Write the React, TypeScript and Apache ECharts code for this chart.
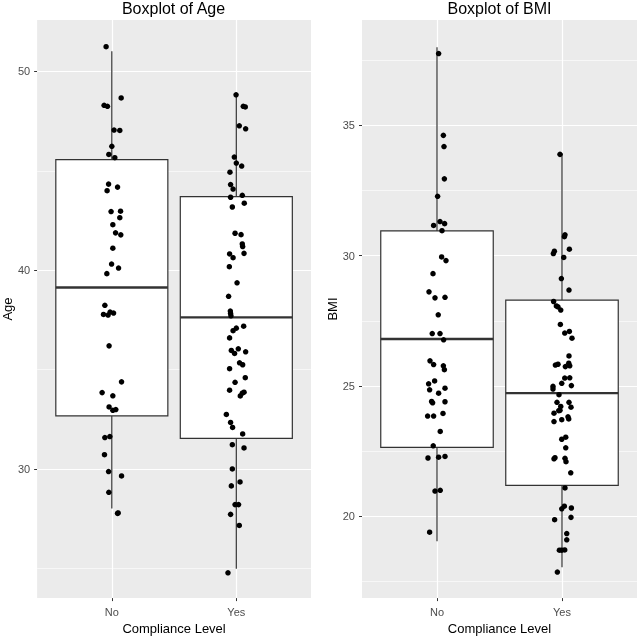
import React, { useEffect, useRef } from "react";
import * as echarts from "echarts";

const categories = ["No", "Yes"];

// Box statistics: [lowerWhisker, Q1, median, Q3, upperWhisker]
const ageBoxNo = [28.02, 32.68, 39.13, 45.56, 51.01];
const ageBoxYes = [25.0, 31.55, 37.63, 43.7, 48.94];
const bmiBoxNo = [19.03, 22.64, 26.8, 30.95, 38.0];
const bmiBoxYes = [18.03, 21.18, 24.72, 28.29, 33.93];

// Jittered observations: values and horizontal jitter (category units)
const ageNo = [51.24, 48.66, 48.29, 48.24, 47.05, 47.03, 46.23, 45.82, 45.66, 44.33, 44.18, 44.0, 42.95, 42.97, 42.64, 42.29, 41.88, 41.78, 41.11, 40.31, 40.11, 39.83, 38.24, 37.78, 37.75, 37.9, 37.85, 36.2, 34.39, 33.85, 33.69, 33.13, 32.96, 33.0, 31.59, 31.64, 30.73, 29.88, 29.66, 28.84, 27.78, 27.8];
const ageNoJit = [-0.046, 0.075, -0.062, -0.035, 0.018, 0.064, 0, -0.024, 0.024, -0.026, 0.046, -0.038, -0.006, 0.07, 0.064, 0.008, 0.03, 0.072, 0.008, -0.002, 0.054, -0.04, -0.056, -0.067, -0.03, -0.014, 0.014, -0.022, 0.078, -0.078, 0.008, -0.022, 0.008, 0.032, -0.056, -0.016, -0.059, -0.026, 0.078, -0.024, 0.046, 0.051];
const ageYes = [48.82, 48.24, 48.21, 47.26, 47.11, 45.69, 45.39, 45.24, 44.93, 44.31, 44.08, 43.77, 43.67, 43.37, 43.18, 41.86, 41.79, 41.32, 41.19, 40.82, 40.63, 40.85, 40.18, 39.37, 38.69, 37.95, 37.83, 37.71, 37.19, 37.09, 36.96, 36.6, 35.97, 35.82, 36.05, 35.9, 35.35, 35.25, 35.05, 34.6, 34.37, 33.97, 33.68, 33.82, 33.87, 32.75, 32.35, 32.1, 31.77, 31.23, 31.07, 30.01, 29.36, 29.16, 28.22, 28.22, 27.73, 27.17, 24.79];
const ageYesJit = [-0.002, 0.056, 0.072, 0.024, 0.075, -0.016, 0, 0.043, -0.051, -0.046, -0.026, 0.048, -0.046, 0.064, -0.032, -0.01, 0.038, 0.048, 0.051, -0.054, -0.026, 0.062, -0.056, 0.006, -0.062, -0.048, -0.046, -0.043, 0.059, 0, -0.026, -0.054, -0.04, -0.014, 0.016, 0.075, 0.026, 0.051, -0.054, 0.072, -0.01, -0.054, 0.032, 0.048, 0.062, -0.08, -0.046, -0.03, 0.051, -0.032, 0.062, -0.032, 0.03, -0.04, -0.01, 0.018, -0.046, 0.024, -0.067];
const bmiNo = [37.76, 34.62, 34.19, 32.95, 32.28, 31.31, 31.23, 31.16, 30.96, 29.95, 29.81, 29.31, 28.61, 28.38, 28.4, 27.73, 27.01, 27.01, 26.77, 25.96, 25.82, 25.77, 25.62, 25.19, 25.08, 24.85, 24.72, 24.91, 24.4, 24.35, 24.39, 23.84, 23.84, 23.94, 23.25, 22.7, 22.23, 22.26, 22.29, 20.96, 20.99, 19.38];
const bmiNoJit = [0.013, 0.051, 0.056, 0.059, 0.005, 0.024, 0.061, -0.027, 0.04, 0.037, 0.072, -0.032, -0.064, -0.016, 0.064, 0.01, -0.038, 0.024, 0.053, -0.056, -0.027, 0.051, 0.059, -0.019, -0.067, -0.059, 0.013, 0.064, -0.043, -0.035, 0.064, -0.075, -0.027, 0.048, 0.026, -0.03, -0.072, 0.013, 0.064, -0.016, 0.026, -0.059];
const bmiYes = [33.89, 30.8, 30.73, 30.17, 30.08, 30.25, 29.93, 29.12, 28.68, 28.24, 28.07, 28.03, 27.91, 27.36, 27.03, 27.09, 26.83, 26.15, 25.8, 25.83, 25.74, 25.87, 25.77, 25.3, 25.31, 25.1, 25.01, 24.98, 24.88, 24.66, 24.37, 24.21, 24.37, 24.18, 24.06, 24.05, 23.95, 23.7, 23.81, 23.73, 23.63, 22.95, 23.03, 22.62, 22.2, 22.24, 22.22, 22.09, 21.66, 21.08, 20.28, 20.38, 20.31, 19.86, 19.95, 19.33, 19.09, 18.69, 18.69, 18.7, 17.85];
const bmiYesJit = [-0.016, 0.024, 0.019, -0.061, -0.069, 0.059, 0.014, -0.005, 0.056, -0.067, -0.045, -0.032, -0.01, -0.013, 0.022, 0.059, 0.08, 0.056, -0.053, -0.032, 0.027, 0.054, 0.062, 0.022, 0.062, -0.002, 0.075, -0.072, -0.072, -0.024, -0.04, -0.01, 0.056, 0.072, -0.016, -0.026, -0.064, -0.002, 0.048, 0.054, -0.064, -0.002, 0.03, 0.03, -0.064, -0.056, 0.024, 0.032, 0.07, 0.024, -0.002, 0.019, 0.075, -0.059, 0.072, 0.038, 0.038, -0.021, -0.002, 0.022, -0.037];

const ageTicks = [30, 40, 50];
const ageMinor = [25, 35, 45];
const bmiTicks = [20, 25, 30, 35];
const bmiMinor = [17.5, 22.5, 27.5, 32.5, 37.5];

const FONT = "Liberation Sans, Arial, Helvetica, sans-serif";

function toPoints(vals: number[], jit: number[], cat: number) {
  return vals.map((v, i) => [cat + jit[i], v]);
}

export default function App() {
  const ref = useRef<HTMLDivElement>(null);
  useEffect(() => {
    if (!ref.current) return;
    const chart = echarts.init(ref.current, null, { renderer: "svg" });

    const grids = [
      { left: 36, top: 20, width: 275, height: 585 },
      { left: 362, top: 20, width: 275, height: 585 },
    ];

    const makeX = (gi: number) => ({
      type: "value",
      gridIndex: gi,
      min: 0.4,
      max: 2.6,
      axisLine: { show: false },
      splitLine: { show: false },
      axisTick: {
        show: true,
        customValues: [1, 2],
        length: 3,
        lineStyle: { color: "#333333", width: 1 },
      },
      axisLabel: {
        customValues: [1, 2],
        formatter: (v: number) => categories[Math.round(v) - 1] ?? "",
        color: "#4D4D4D",
        fontSize: 11,
        fontFamily: FONT,
        margin: 8,
      },
      name: "Compliance Level",
      nameLocation: "middle",
      nameGap: 21,
      nameTextStyle: { color: "#000", fontSize: 13, fontFamily: FONT },
    });

    const makeY = (gi: number, min: number, max: number, ticks: number[], name: string) => ({
      type: "value",
      gridIndex: gi,
      min,
      max,
      axisLine: { show: false },
      splitLine: { show: false },
      axisTick: {
        show: true,
        customValues: ticks,
        length: 3,
        lineStyle: { color: "#333333", width: 1 },
      },
      axisLabel: {
        customValues: ticks,
        color: "#4D4D4D",
        fontSize: 11,
        fontFamily: FONT,
        margin: 7,
      },
      name,
      nameLocation: "middle",
      nameGap: 23,
      nameTextStyle: { color: "#000", fontSize: 13, fontFamily: FONT },
    });

    const gridLines = (gi: number, major: number[], minor: number[]) => ({
      type: "scatter",
      xAxisIndex: gi,
      yAxisIndex: gi,
      data: [],
      silent: true,
      markLine: {
        silent: true,
        symbol: "none",
        z: 1,
        label: { show: false },
        animation: false,
        data: [
          ...minor.map((v) => ({ yAxis: v, lineStyle: { color: "#FFFFFF", width: 0.6, type: "solid" } })),
          ...major.map((v) => ({ yAxis: v, lineStyle: { color: "#FFFFFF", width: 1.2, type: "solid" } })),
          ...[1, 2].map((v) => ({ xAxis: v, lineStyle: { color: "#FFFFFF", width: 1.2, type: "solid" } })),
        ],
      },
    });

    const boxSeries = (gi: number, boxes: number[][]) => ({
      type: "custom",
      xAxisIndex: gi,
      yAxisIndex: gi,
      z: 10,
      silent: true,
      data: boxes.map((b, i) => [i + 1, ...b]),
      encode: { x: 0, y: [1, 2, 3, 4, 5] },
      renderItem: (params: any, api: any) => {
        const x = api.value(0);
        const lo = api.value(1);
        const q1 = api.value(2);
        const med = api.value(3);
        const q3 = api.value(4);
        const hi = api.value(5);
        const hw = 0.45;
        const pHi = api.coord([x, hi]);
        const pQ3 = api.coord([x, q3]);
        const pQ1 = api.coord([x, q1]);
        const pLo = api.coord([x, lo]);
        const tl = api.coord([x - hw, q3]);
        const br = api.coord([x + hw, q1]);
        const mL = api.coord([x - hw, med]);
        const mR = api.coord([x + hw, med]);
        const stroke = "#333333";
        return {
          type: "group",
          children: [
            { type: "line", shape: { x1: pHi[0], y1: pHi[1], x2: pQ3[0], y2: pQ3[1] }, style: { stroke, lineWidth: 1.2 } },
            { type: "line", shape: { x1: pQ1[0], y1: pQ1[1], x2: pLo[0], y2: pLo[1] }, style: { stroke, lineWidth: 1.2 } },
            {
              type: "rect",
              shape: { x: tl[0], y: tl[1], width: br[0] - tl[0], height: br[1] - tl[1] },
              style: { fill: "#FFFFFF", stroke, lineWidth: 1.2 },
            },
            { type: "line", shape: { x1: mL[0], y1: mL[1], x2: mR[0], y2: mR[1] }, style: { stroke, lineWidth: 2.4 } },
          ],
        };
      },
    });

    const pointSeries = (gi: number, data: number[][]) => ({
      type: "scatter",
      xAxisIndex: gi,
      yAxisIndex: gi,
      z: 11,
      silent: true,
      symbol: "circle",
      symbolSize: 5.5,
      itemStyle: { color: "#000000", opacity: 1 },
      data,
    });

    chart.setOption({
      animation: false,
      grid: grids.map((g) => ({ ...g, show: true, backgroundColor: "#EBEBEB", borderWidth: 0, containLabel: false })),
      xAxis: [makeX(0), makeX(1)],
      yAxis: [
        makeY(0, 23.52, 52.58, ageTicks, "Age"),
        makeY(1, 16.85, 39.05, bmiTicks, "BMI"),
      ],
      graphic: [
        { type: "text", x: 173.5, y: 8, style: { text: "Boxplot of Age", align: "center", verticalAlign: "middle", fontSize: 16, fontFamily: FONT, fill: "#000" } },
        { type: "text", x: 499.5, y: 8, style: { text: "Boxplot of BMI", align: "center", verticalAlign: "middle", fontSize: 16, fontFamily: FONT, fill: "#000" } },
      ],
      series: [
        gridLines(0, ageTicks, ageMinor),
        gridLines(1, bmiTicks, bmiMinor),
        boxSeries(0, [ageBoxNo, ageBoxYes]),
        boxSeries(1, [bmiBoxNo, bmiBoxYes]),
        pointSeries(0, [...toPoints(ageNo, ageNoJit, 1), ...toPoints(ageYes, ageYesJit, 2)]),
        pointSeries(1, [...toPoints(bmiNo, bmiNoJit, 1), ...toPoints(bmiYes, bmiYesJit, 2)]),
      ],
    });
    return () => chart.dispose();
  }, []);
  return <div ref={ref} style={{ position: "fixed", left: 0, top: 0, width: 638, height: 640 }} />;
}
